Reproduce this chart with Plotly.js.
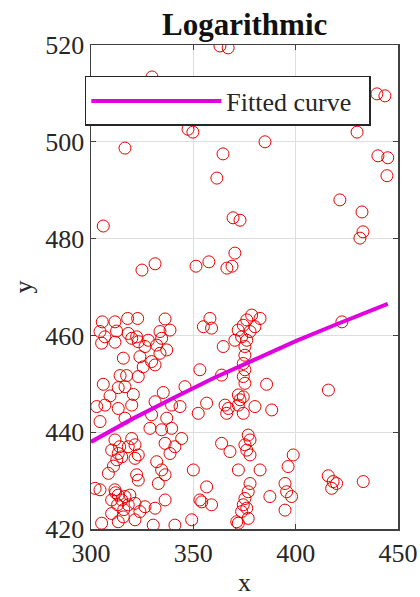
<!DOCTYPE html>
<html>
<head>
<meta charset="utf-8">
<script src="https://cdn.plot.ly/plotly-3.0.1.min.js"></script>
<style>html,body{margin:0;padding:0;background:#fff;}#chart{width:420px;height:597px;}</style>
</head>
<body>
<div id="chart"></div>
<script>
// Scatter data
const xData = [
363,367,329.8,439.7,443.6,347.4,349.8,316.6,385,364.5,430,361.5,440.2,445,444.6,421.6,432.4,431.4,432.9,306,
369.4,372.8,370.3,324.9,331.3,351.3,357.6,366.4,368.9,422.6,
305.5,311.7,317.9,322.8,336.2,304.4,306.8,312.5,318.2,319.9,322.3,328,333.7,338.6,334.5,
305.2,311.7,323.1,326.4,332.1,337,333.7,315.8,323.9,329.6,325.5,331.3,314.2,317.4,323.1,
306,313.3,316.6,309.3,320.7,335.3,345.9,302.8,306.8,313.3,319.9,331.3,339.4,343.5,
304.4,316.6,329.6,337,352.4,353.2,
311.7,310.1,313.3,312.6,315,319.9,321.5,318.2,323.1,321.5,328.8,334.5,339.4,344.3,341,336.2,338.6,332.1,334.5,
308.5,322.3,323.1,332.9,336.2,350,302,304.4,311.7,313.3,315,316.6,310.1,318.2,321.5,326.4,331.3,336.2,353.2,
310.1,315.8,321.5,323.9,305.2,313.3,330.4,341,349.2,311,314,313,316,312,319,
358.1,354.9,358.9,378.5,382.6,376.1,374.4,380.1,377.7,371.9,373.6,376.1,370.3,375.2,364.6,375.2,374.4,375.2,374.4,363.8,
375.2,385.8,372,374.4,372.8,356.5,365.5,367.1,366.3,372,374.4,380.1,388.3,
376.8,377.7,375.2,376.1,363.8,367.9,377.7,398.8,396.3,372,382.6,356.5,377.7,376.8,375.2,374.4,376.1,373.6,376.8,372,
387.4,394.8,395.6,398,394.8,354.1,358.9,371.2,
415.9,418.3,417.6,420,433,416
];
const yData = [
519.8,519.4,513.4,509.9,509.5,502.6,502,498.7,500,497.5,502,492.5,497.1,496.7,493,488,485.5,480.1,481.4,482.6,
484.3,483.8,477,473.5,474.8,474.3,475.2,473.9,474.3,462.8,
462.8,462.8,463.5,463.5,463.4,460.8,459.7,460.9,460.4,459.4,459.7,459,460.8,461.1,459.4,
458.4,458.6,458.7,457.7,458,457,456.3,455.3,455.6,454.6,453.5,453.9,451.7,451.7,451.5,
449.9,449.2,449.4,447.5,447.8,448.2,449.4,445.3,445.6,444.9,445.6,446.3,445.6,445.3,
442.2,442.9,443.6,442.9,443.9,452.9,
438.4,436.3,435.6,434.3,434.9,438.7,437.4,437,435.3,434.6,440.8,440.5,440.8,438.7,437,437.7,435.6,433.9,432.2,
431.5,431.2,430.1,429.4,431.2,432.2,428.4,428.1,428.1,427,426,426.7,426,425,425.3,424.6,424.3,426,426,
423.2,422.5,421.9,423.6,421.2,421.5,420.8,420.8,421.9,433,437,425,424,427.5,427,
463.5,461.8,461.5,464.2,463.5,463.2,462.1,461.8,460.8,461.1,459.7,459,459,457.7,457.7,455.9,454.2,452.9,451.5,451.8,
450.1,449.9,447.7,447.3,446.7,446,445.6,444.9,443.9,445.6,443.9,445.3,444.6,
439.4,438.4,437.4,436.3,437.7,436,435.3,435.3,432.9,432.2,432.2,428.7,429.4,427.7,426.3,425,424.3,423.6,422.2,421.2,
426.7,429.4,427.7,426.7,423.9,425.6,425,421.5,
431,429.8,428.4,429.4,429.8,448.7
];
// Fitted (logarithmic) curve
const fitX = [300, 320, 340, 360, 380, 400, 420, 445];
const fitY = [438.0, 442.7, 447.0, 451.2, 455.0, 458.8, 462.3, 466.5];
// Tick labels
const xTicks = [300, 350, 400, 450];
const yTicks = [420, 440, 460, 480, 500, 520];

const FONT = '"Liberation Serif", "Times New Roman", serif';
const TXT = '#262626';

const traces = [
  {
    x: xData, y: yData, type: 'scatter', mode: 'markers', showlegend: false,
    marker: {symbol: 'circle-open', size: 12, color: '#e80000', line: {width: 1, color: '#e80000'}},
    hoverinfo: 'x+y'
  },
  {
    x: fitX, y: fitY, type: 'scatter', mode: 'lines', name: 'Fitted curve\u00a0\u00a0',
    line: {color: '#e000e0', width: 4}
  }
];

const axisCommon = {
  showgrid: true, gridcolor: '#dedede', gridwidth: 1,
  zeroline: false, showline: true, linecolor: '#404040', linewidth: 1.5, mirror: 'ticks',
  ticks: 'inside', ticklen: 5, tickwidth: 1, tickcolor: '#404040',
  tickfont: {family: FONT, size: 26, color: TXT}
};

const layout = {
  width: 420, height: 597,
  margin: {l: 91, r: 22, t: 45, b: 68, pad: 0},
  paper_bgcolor: '#ffffff', plot_bgcolor: '#ffffff',
  font: {family: FONT, color: TXT},
  title: {text: '<b>Logarithmic</b>', font: {family: FONT, size: 31, color: '#111'}, x: 0.5825, xanchor: 'center', y: 0.978, yanchor: 'top'},
  xaxis: Object.assign({}, axisCommon, {
    range: [300, 450], tickvals: xTicks, ticktext: xTicks.map(String),
    title: {text: 'x', font: {family: FONT, size: 26, color: TXT}, standoff: 7}
  }),
  yaxis: Object.assign({}, axisCommon, {
    range: [420, 520], tickvals: yTicks, ticktext: yTicks.map(String),
    title: {text: 'y', font: {family: FONT, size: 26, color: TXT}, standoff: 5}
  }),
  showlegend: true,
  legend: {
    x: -0.02, y: 0.936, xanchor: 'left', yanchor: 'top',
    bgcolor: '#ffffff', bordercolor: '#262626', borderwidth: 1.5,
    font: {family: FONT, size: 26, color: TXT},
    itemwidth: 130, tracegroupgap: 0
  }
};

Plotly.newPlot('chart', traces, layout, {displayModeBar: false, staticPlot: true});
</script>
</body>
</html>
